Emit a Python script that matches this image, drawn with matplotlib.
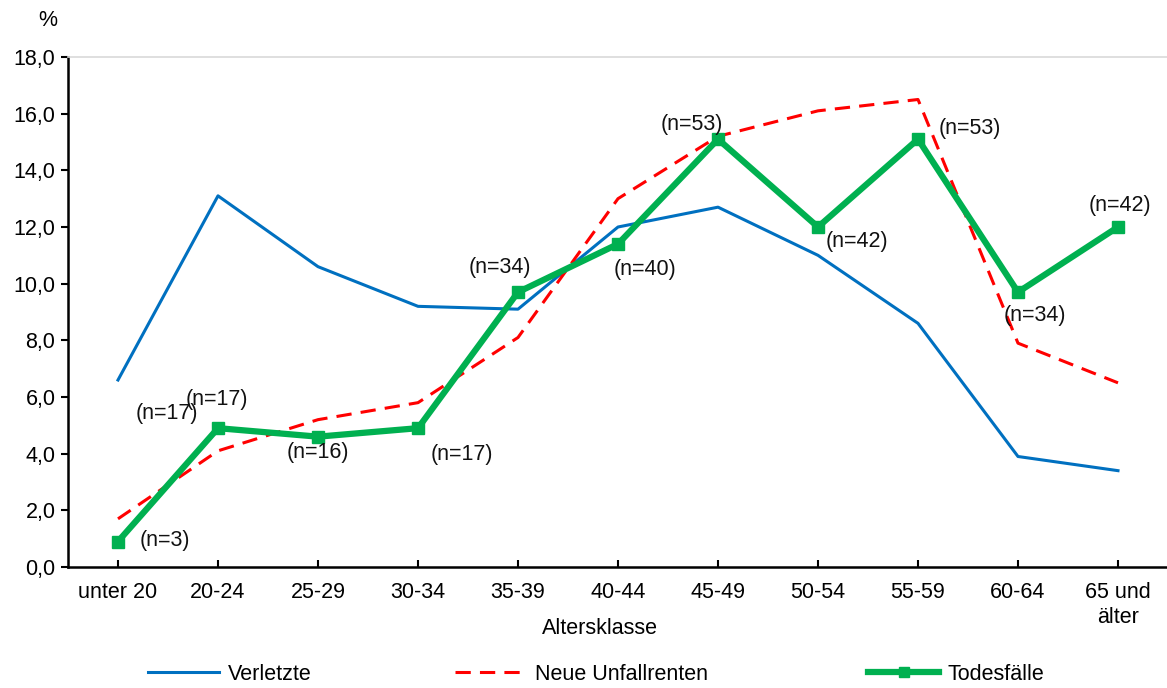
import matplotlib
matplotlib.use("Agg")
import matplotlib.pyplot as plt
import numpy as np

plt.rcParams['font.family'] = ['Liberation Sans', 'DejaVu Sans']

categories = ["unter 20", "20-24", "25-29", "30-34", "35-39", "40-44",
              "45-49", "50-54", "55-59", "60-64", "65 und\nälter"]
verletzte = [6.6, 13.1, 10.6, 9.2, 9.1, 12.0, 12.7, 11.0, 8.6, 3.9, 3.4]
unfallrenten = [1.7, 4.1, 5.2, 5.8, 8.1, 13.0, 15.2, 16.1, 16.5, 7.9, 6.5]
todesfaelle = [0.9, 4.9, 4.6, 4.9, 9.7, 11.4, 15.1, 12.0, 15.1, 9.7, 12.0]
n_labels = ["(n=3)", "(n=17)", "(n=16)", "(n=17)", "(n=34)", "(n=40)",
            "(n=53)", "(n=42)", "(n=53)", "(n=34)", "(n=42)"]
# label offsets in pixels from the green point
n_offsets = [(47, 1), (-51, 15), (0, -16), (44, -26), (-18, 25), (27, -25),
             (-26, 15), (39, -15), (52, 11), (17, -23), (2, 21)]

fs = 15.5
fig = plt.figure(figsize=(11.67, 6.88), dpi=100)
ax = fig.add_axes([68 / 1167, 1 - 567 / 688, 1100 / 1167, 510 / 688])

x = np.arange(len(categories))
l1, = ax.plot(x, verletzte, color="#0070C0", lw=2.2, label="Verletzte")
l2, = ax.plot(x, unfallrenten, color="#FF0000", lw=2.2, dashes=(5, 3),
              label="Neue Unfallrenten")
l3, = ax.plot(x, todesfaelle, color="#00B050", lw=4.5, marker="s", ms=9,
              label="Todesfälle")

px = 72 / 100
for xi, yi, lab, (dx, dy) in zip(x, todesfaelle, n_labels, n_offsets):
    ax.annotate(lab, (xi, yi), xytext=(dx * px, dy * px), textcoords="offset points",
                ha="center", va="center", fontsize=fs, color="#111111")
# the second, overlapping label at 20-24
ax.annotate("(n=17)", (x[1], todesfaelle[1]), xytext=(-1 * px, 29 * px),
            textcoords="offset points", ha="center", va="center", fontsize=fs,
            color="#111111", zorder=1)

ax.set_xlim(-0.5, len(categories) - 0.5)
ax.set_ylim(0, 18)
ax.set_yticks(np.arange(0, 18.1, 2))
ax.set_yticklabels([f"{v:.1f}".replace(".", ",") for v in np.arange(0, 18.1, 2)])
ax.set_xticks(x)
ax.set_xticklabels(categories, linespacing=1.25)
ax.tick_params(axis="y", direction="out", length=5, width=1.5, labelsize=fs, pad=4)
ax.tick_params(axis="x", direction="in", length=5, width=1.5, labelsize=fs, pad=11)

for s in ["left", "bottom"]:
    ax.spines[s].set_linewidth(1.8)
ax.spines["right"].set_visible(False)
ax.spines["top"].set_color("#D9D9D9")
ax.spines["top"].set_linewidth(1.2)

fig.text(600 / 1167, 1 - 629 / 688, "Altersklasse", fontsize=fs, ha="center", va="center")
fig.text(48 / 1167, 1 - 20 / 688, "%", fontsize=fs, ha="center", va="center")

# one legend per entry, placed like the original
for h, x0 in [(l1, 148), (l2, 455), (l3, 868)]:
    fig.legend(handles=[h], loc="center left", bbox_to_anchor=(x0 / 1167, 1 - 674 / 688),
               frameon=False, fontsize=fs, handlelength=3.3, handletextpad=0.4,
               borderpad=0, borderaxespad=0, markerscale=0.8)

fig.savefig("out.png", dpi=100)
